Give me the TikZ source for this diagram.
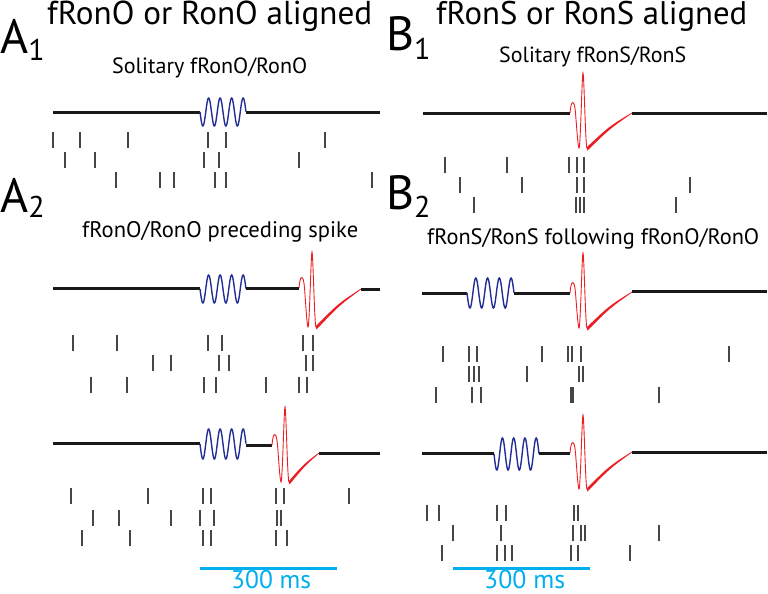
\documentclass[tikz,border=0pt]{standalone}
\usepackage{fontspec}
\setmainfont{PT Sans}
\usepackage{graphicx}
\definecolor{tracek}{RGB}{25,25,25}
\definecolor{oscblue}{RGB}{35,45,150}
\definecolor{spkred}{RGB}{235,30,35}
\definecolor{tickgray}{RGB}{70,70,70}
\definecolor{barcyan}{RGB}{0,174,239}
\tikzset{
  trace/.style={line width=3pt, color=tracek},
  osc/.style={line width=1.4pt, color=oscblue},
  spk/.style={line width=0.9pt, color=spkred},
  tk/.style={line width=1.1pt, color=tickgray},
  scalebar/.style={line width=3pt, color=barcyan},
  lbl/.style={anchor=base west, inner sep=0pt, text=black},
}
% oscillation: x0 x1 base amp
\newcommand\myosc[4]{\draw[osc] plot[domain=0:1,samples=120,smooth] ({#1+(#2-#1)*\x},{#3+#4*sin(1440*\x)});}
% spike: sx base trough peak ex ey
\newcommand\myspk[6]{%
  \draw[spk] (#1,#2) .. controls ({#1+1},{#2-14}) and ({#1+4.5},{#2-14}) .. ({#1+5.5},#2)
    .. controls ({#1+6.5},{#2+12}) and ({#1+8},#3) .. ({#1+9},#3)
    .. controls ({#1+10.5},#3) and ({#1+12},#4) .. ({#1+13},#4)
    .. controls ({#1+14},#4) and ({#1+15.5},#3) .. ({#1+17},#3);
  \fill[spkred] ({#1+16.5},{#3-0.5}) .. controls ({#1+16.5+0.5*(#5-#1-16.5)},{#3-0.62*(#3-#6)}) .. (#5,{#6-0.4})
    -- (#5,{#6+0.4}) .. controls ({#1+17.5+0.5*(#5-#1-17.5)},{#3+2.5-0.62*(#3-#6)}) .. ({#1+17.5},{#3+2.5}) -- cycle;}
% raster row: y, list of x
\newcommand\myrast[2]{\foreach \t in {#2} \draw[tk] (\t,{#1-8}) -- (\t,{#1+8});}
\begin{document}
\begin{tikzpicture}[x=1pt,y=-1pt]
\useasboundingbox (0,0) rectangle (768,594);
% titles
\node[lbl] (titleA) at (47,25) {\resizebox{325pt}{!}{\fontsize{30}{30}\selectfont fRonO or RonO aligned}};
\node[lbl] (titleB) at (436,25) {\resizebox{311pt}{!}{\fontsize{30}{30}\selectfont fRonS or RonS aligned}};
\node[lbl] (labA1) at (0,53) {\fontsize{48}{48}\selectfont A\raisebox{-7pt}{\fontsize{30}{30}\selectfont 1}};
\node[lbl] (labA2) at (0,212) {\fontsize{48}{48}\selectfont A\raisebox{-5pt}{\fontsize{30}{30}\selectfont 2}};
\node[lbl] (labB1) at (386,51) {\fontsize{48}{48}\selectfont B\raisebox{-9pt}{\fontsize{30}{30}\selectfont 1}};
\node[lbl] (labB2) at (386,209) {\fontsize{48}{48}\selectfont B\raisebox{-8pt}{\fontsize{30}{30}\selectfont 2}};
\node[lbl] (subA1) at (112,74) {\resizebox{195pt}{!}{\fontsize{20}{20}\selectfont Solitary fRonO/RonO}};
\node[lbl] (subB1) at (499,63) {\resizebox{187pt}{!}{\fontsize{20}{20}\selectfont Solitary fRonS/RonS}};
\node[lbl] (subA2) at (82,237) {\resizebox{276pt}{!}{\fontsize{20}{20}\selectfont fRonO/RonO preceding spike}};
\node[lbl] (subB2) at (427,244) {\resizebox{332pt}{!}{\fontsize{20}{20}\selectfont fRonS/RonS following fRonO/RonO}};
% A1 trace
\draw[trace] (53,112) -- (200,112);
\myosc{200}{246}{112}{14}
\draw[trace] (246,112) -- (380,112);
\myrast{140}{53,80,128,208,226,325}
\myrast{160}{65,95,204,219,299}
\myrast{180}{116,160,174,215,226,372}
% A2 first trace
\draw[trace] (53,288) -- (200,288);
\myosc{200}{246}{289}{14}
\draw[trace] (246,288) -- (299,288);
\myspk{299}{288}{327}{252}{361}{289}
\draw[trace] (361,289) -- (380,289);
\myrast{343}{73,117,208,222,303,313}
\myrast{363}{153,171,219,229,306,313}
\myrast{385}{91,127,204,216,266,299,307}
% A2 second trace
\draw[trace] (53,443) -- (200,443);
\myosc{200}{246}{444}{15}
\draw[trace] (246,445) -- (272,445);
\myspk{272}{445}{482}{407}{319}{453}
\draw[trace] (319,453) -- (380,453);
\myrast{496}{71,148,203,211,276,284,349}
\myrast{518}{93,119,171,200,214,277,281}
\myrast{538}{82,130,203,211,276,287}
% B1 trace
\draw[trace] (423,113) -- (570,113);
\myspk{570}{113}{148}{73}{632}{113}
\draw[trace] (632,113) -- (767,113);
\myrast{165}{445,507,569,577,584}
\myrast{185}{460,522,577,584,690}
\myrast{205}{474,576,580,584,676}
% B2 first trace
\draw[trace] (422,293) -- (467,293);
\myosc{467}{514}{293}{15}
\draw[trace] (514,293) -- (570,293);
\myspk{570}{293}{328}{253}{632}{292}
\draw[trace] (632,291) -- (767,291);
\myrast{354}{443,469,477,542,568,572,581,729}
\myrast{374}{469,474,479,527,579,583}
\myrast{395}{436,472,481,571,573,659}
% B2 second trace
\draw[trace] (422,453) -- (494,453);
\myosc{494}{539}{454}{16}
\draw[trace] (539,453) -- (570,453);
\myspk{570}{453}{489}{415}{632}{452}
\draw[trace] (632,452) -- (767,452);
\myrast{513}{427,439,497,506,574,578}
\myrast{533}{453,501,573,581,585,659}
\myrast{553}{442,497,505,512,571,578,630}
% scale bars
\draw[scalebar] (200,568) -- (337,568);
\draw[scalebar] (453,568) -- (590,568);
\node[lbl, text=barcyan] (barA) at (231,588) {\resizebox{80pt}{!}{\fontsize{24}{24}\selectfont 300 ms}};
\node[lbl, text=barcyan] (barB) at (484,588) {\resizebox{81pt}{!}{\fontsize{24}{24}\selectfont 300 ms}};
\end{tikzpicture}
\end{document}
